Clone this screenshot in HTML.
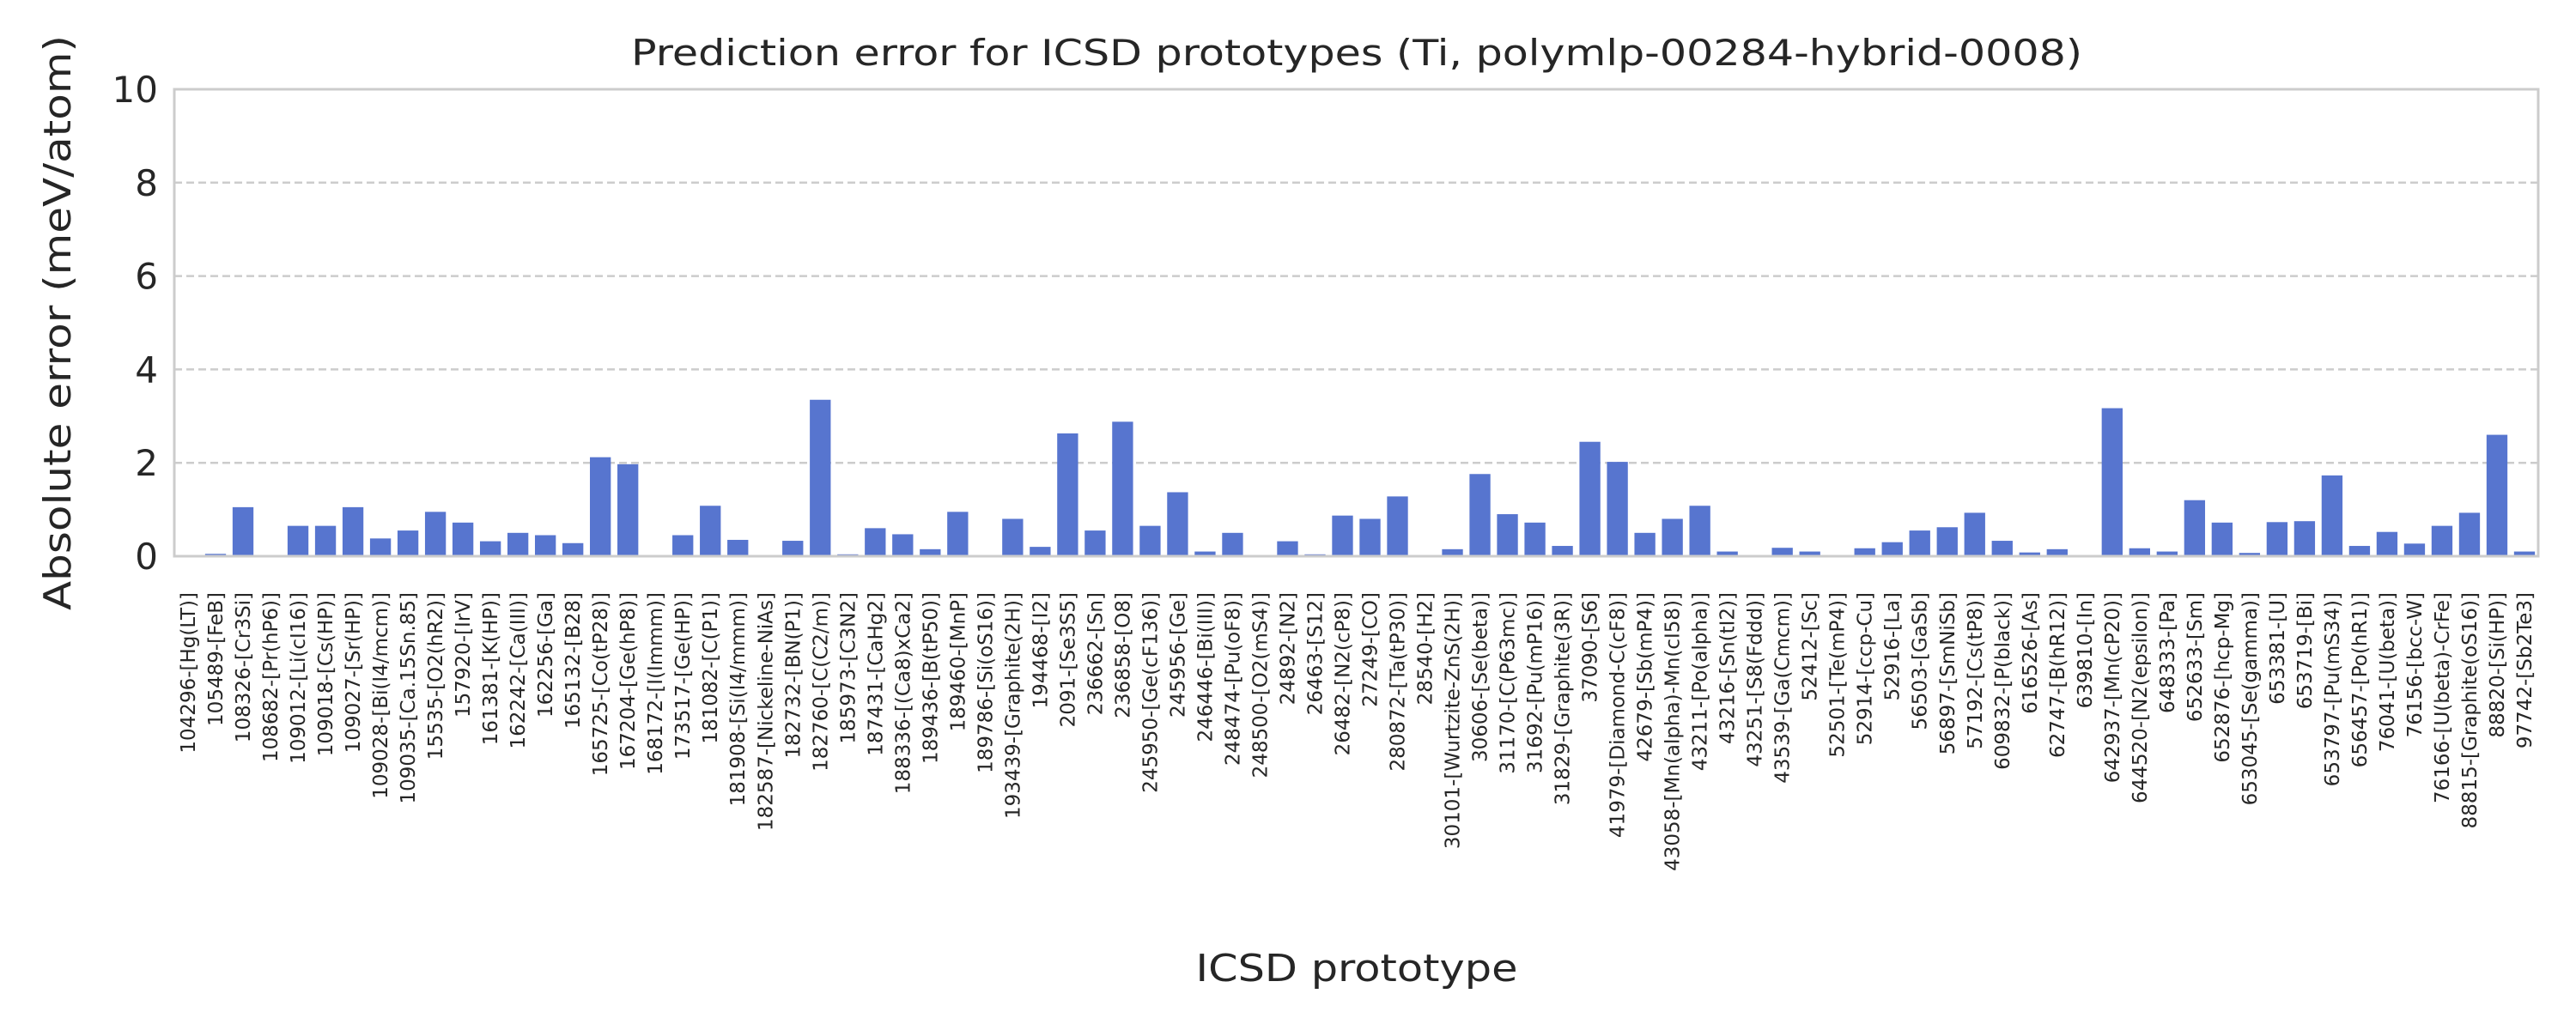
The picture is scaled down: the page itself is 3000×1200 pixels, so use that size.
<!DOCTYPE html>
<html><head><meta charset="utf-8"><style>
html,body{margin:0;padding:0;background:#fff;}
svg{display:block;font-family:"DejaVu Sans","Liberation Sans",sans-serif;}
</style></head><body>
<svg id="chart" width="3000" height="1200" viewBox="0 0 3000 1200" xmlns="http://www.w3.org/2000/svg">
<rect x="0" y="0" width="3000" height="1200" fill="#fff"/>
<text x="1580" y="76" font-size="42" fill="#262626" text-anchor="middle" textLength="1690" lengthAdjust="spacingAndGlyphs">Prediction error for ICSD prototypes (Ti, polymlp-00284-hybrid-0008)</text>
<text transform="translate(82,376) rotate(-90)" font-size="44" fill="#262626" text-anchor="middle" textLength="670" lengthAdjust="spacingAndGlyphs">Absolute error (meV/atom)</text>
<text x="1580" y="1143" font-size="44" fill="#262626" text-anchor="middle" textLength="375" lengthAdjust="spacingAndGlyphs">ICSD prototype</text>
<g id="grid"></g>
<g id="bars"></g>
<g id="yticks"></g>
<g id="xticks"></g>
<rect x="203" y="104" width="2753" height="544" fill="none" stroke="#cccccc" stroke-width="3"/>
</svg>
<script>
const categories = ["104296-[Hg(LT)]","105489-[FeB]","108326-[Cr3Si]","108682-[Pr(hP6)]","109012-[Li(cI16)]","109018-[Cs(HP)]","109027-[Sr(HP)]","109028-[Bi(I4/mcm)]","109035-[Ca.15Sn.85]","15535-[O2(hR2)]","157920-[IrV]","161381-[K(HP)]","162242-[Ca(III)]","162256-[Ga]","165132-[B28]","165725-[Co(tP28)]","167204-[Ge(hP8)]","168172-[I(Immm)]","173517-[Ge(HP)]","181082-[C(P1)]","181908-[Si(I4/mmm)]","182587-[Nickeline-NiAs]","182732-[BN(P1)]","182760-[C(C2/m)]","185973-[C3N2]","187431-[CaHg2]","188336-[(Ca8)xCa2]","189436-[B(tP50)]","189460-[MnP]","189786-[Si(oS16)]","193439-[Graphite(2H)]","194468-[I2]","2091-[Se3S5]","236662-[Sn]","236858-[O8]","245950-[Ge(cF136)]","245956-[Ge]","246446-[Bi(III)]","248474-[Pu(oF8)]","248500-[O2(mS4)]","24892-[N2]","26463-[S12]","26482-[N2(cP8)]","27249-[CO]","280872-[Ta(tP30)]","28540-[H2]","30101-[Wurtzite-ZnS(2H)]","30606-[Se(beta)]","31170-[C(P63mc)]","31692-[Pu(mP16)]","31829-[Graphite(3R)]","37090-[S6]","41979-[Diamond-C(cF8)]","42679-[Sb(mP4)]","43058-[Mn(alpha)-Mn(cI58)]","43211-[Po(alpha)]","43216-[Sn(tI2)]","43251-[S8(Fddd)]","43539-[Ga(Cmcm)]","52412-[Sc]","52501-[Te(mP4)]","52914-[ccp-Cu]","52916-[La]","56503-[GaSb]","56897-[SmNiSb]","57192-[Cs(tP8)]","609832-[P(black)]","616526-[As]","62747-[B(hR12)]","639810-[In]","642937-[Mn(cP20)]","644520-[N2(epsilon)]","648333-[Pa]","652633-[Sm]","652876-[hcp-Mg]","653045-[Se(gamma)]","653381-[U]","653719-[Bi]","653797-[Pu(mS34)]","656457-[Po(hR1)]","76041-[U(beta)]","76156-[bcc-W]","76166-[U(beta)-CrFe]","88815-[Graphite(oS16)]","88820-[Si(HP)]","97742-[Sb2Te3]"];
const errors = [0.01,0.05,1.05,0,0.65,0.65,1.05,0.38,0.55,0.95,0.72,0.32,0.5,0.45,0.28,2.12,1.97,0,0.45,1.08,0.35,0,0.33,3.35,0.04,0.6,0.47,0.15,0.95,0,0.8,0.2,2.63,0.55,2.88,0.65,1.37,0.1,0.5,0,0.32,0.04,0.87,0.8,1.28,0,0.15,1.76,0.9,0.72,0.22,2.45,2.02,0.5,0.8,1.08,0.1,0,0.18,0.1,0,0.17,0.3,0.55,0.62,0.93,0.33,0.08,0.15,0,3.17,0.17,0.1,1.2,0.72,0.07,0.73,0.75,1.73,0.22,0.52,0.27,0.65,0.93,2.6,0.1];
const yTicks = [0,2,4,6,8,10];

const NS = "http://www.w3.org/2000/svg";
const L = 203, R = 2956, T = 104, B = 648, yMax = 10;
const step = (R - L) / categories.length;
const bw = step * 0.76;
function xScale(i){ return L + step * (i + 0.5); }
function yScale(v){ return B - (v / yMax) * (B - T); }

const grid = document.getElementById('grid');
const yt = document.getElementById('yticks');
yTicks.forEach(t => {
  if (t > 0 && t < yMax) {
    const ln = document.createElementNS(NS, 'line');
    ln.setAttribute('x1', L); ln.setAttribute('x2', R);
    ln.setAttribute('y1', yScale(t)); ln.setAttribute('y2', yScale(t));
    ln.setAttribute('stroke', '#cccccc'); ln.setAttribute('stroke-width', '2.5');
    ln.setAttribute('stroke-dasharray', '9 5');
    
    
    grid.appendChild(ln);
  }
  const tx = document.createElementNS(NS, 'text');
  tx.setAttribute('x', 184); tx.setAttribute('y', yScale(t) + 15);
  tx.setAttribute('font-size', '42'); tx.setAttribute('fill', '#262626');
  tx.setAttribute('text-anchor', 'end');
  tx.textContent = String(t);
  
  
  yt.appendChild(tx);
});

const bars = document.getElementById('bars');
const xt = document.getElementById('xticks');
categories.forEach((c, i) => {
  const v = errors[i];
  const r = document.createElementNS(NS, 'rect');
  r.setAttribute('x', xScale(i) - bw / 2);
  r.setAttribute('y', yScale(v));
  r.setAttribute('width', bw);
  r.setAttribute('height', B - yScale(v));
  r.setAttribute('fill', '#5775cf');
  
  
  bars.appendChild(r);
  const tx = document.createElementNS(NS, 'text');
  const x = xScale(i) + 8;
  tx.setAttribute('transform', 'translate(' + x + ',690) rotate(-90)');
  tx.setAttribute('font-size', '23'); tx.setAttribute('fill', '#262626');
  tx.setAttribute('text-anchor', 'end');
  tx.textContent = c;
  
  
  xt.appendChild(tx);
});
</script>
</body></html>
